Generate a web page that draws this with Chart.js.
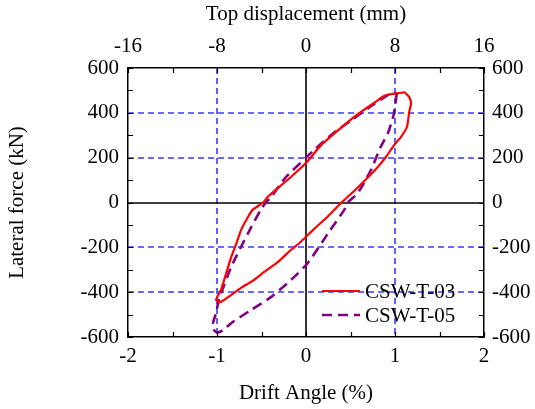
<!DOCTYPE html>
<html><head><meta charset="utf-8">
<script src="https://cdn.jsdelivr.net/npm/chart.js@4/dist/chart.umd.min.js"></script>
<style>html,body{margin:0;padding:0;background:#fff}</style>
</head><body>
<canvas id="c" width="535" height="409"></canvas>
<script>
// ---- data (drift angle %, lateral force kN) ----
const seriesNames = ['CSW-T-03', 'CSW-T-05'];
const t03X = [1.11, 1.16, 1.18, 1.16, 1.135, 1.07, 0.99, 0.90, 0.80, 0.70, 0.55, 0.40, 0.25, 0.10, 0.02, -0.06, -0.17, -0.30, -0.47, -0.60, -0.73, -0.85, -0.92, -0.97, -1.01, -0.99, -0.955, -0.90, -0.84, -0.78, -0.73, -0.66, -0.60, -0.48, -0.43, -0.30, -0.17, 0.01, 0.17, 0.39, 0.52, 0.65, 0.76, 0.88, 0.96, 1.03, 1.11];
const t03Y = [492, 470, 442, 405, 338, 294, 256, 204, 155, 114, 55, 0, -60, -115, -145, -176, -212, -260, -310, -350, -381, -415, -435, -444, -435, -415, -390, -320, -243, -180, -123, -70, -33, 0, 25, 70, 114, 181, 256, 332, 375, 413, 443, 476, 484, 487, 492];
const t05X = [1.02, 1.00, 0.98, 0.92, 0.84, 0.73, 0.58, 0.47, 0.43, 0.25, 0.02, -0.17, -0.39, -0.62, -0.84, -0.93, -1.00, -1.05, -1.04, -1.01, -0.98, -0.84, -0.65, -0.51, -0.45, -0.39, -0.24, 0.09, 0.30, 0.52, 0.75, 0.96, 1.02];
const t05Y = [487, 427, 383, 309, 249, 145, 41, 0, -33, -136, -270, -346, -421, -480, -538, -569, -580, -560, -530, -493, -435, -287, -136, -33, 0, 25, 107, 234, 307, 370, 435, 488, 487];
const driftRange = [-2, 2];
const dispRange = [-16, 16];
const forceRange = [-600, 600];

const FONT = "'Liberation Serif', 'Times New Roman', serif";
Chart.defaults.font.family = FONT;
Chart.defaults.font.size = 21;
Chart.defaults.color = '#000';

// grid lines drawn from the library's own scale ticks
const gridLines = {
  id: 'gridLines',
  beforeDatasetsDraw(chart) {
    const {ctx, chartArea: a, scales} = chart;
    ctx.save();
    const line = (x1, y1, x2, y2, zero) => {
      ctx.beginPath();
      ctx.strokeStyle = zero ? '#000000' : '#3a3aff';
      ctx.lineWidth = zero ? 1.6 : 1.6;
      ctx.setLineDash(zero ? [] : [6, 4]);
      ctx.moveTo(x1, y1); ctx.lineTo(x2, y2); ctx.stroke();
    };
    scales.x.ticks.forEach(t => {
      if (t.value === scales.x.min || t.value === scales.x.max) return;
      const px = Math.round(scales.x.getPixelForValue(t.value));
      line(px, a.top, px, a.bottom, t.value === 0);
    });
    scales.y.ticks.forEach(t => {
      if (t.value === scales.y.min || t.value === scales.y.max) return;
      const py = Math.round(scales.y.getPixelForValue(t.value));
      line(a.left, py, a.right, py, t.value === 0);
    });
    ctx.restore();
  }
};

const tickMarks = {
  id: 'tickMarks',
  afterDatasetsDraw(chart) {
    const {ctx, chartArea: a, scales} = chart;
    ctx.save();
    ctx.strokeStyle = '#000';
    ctx.lineWidth = 1.2;
    ctx.setLineDash([]);
    ctx.beginPath();
    for (let v = driftRange[0]; v <= driftRange[1] + 1e-9; v += 0.5) {
      const px = Math.round(scales.x.getPixelForValue(v)) + 0.5;
      ctx.moveTo(px, a.bottom); ctx.lineTo(px, a.bottom - 5);
      ctx.moveTo(px, a.top); ctx.lineTo(px, a.top + 5);
    }
    for (let v = forceRange[0]; v <= forceRange[1] + 1e-9; v += 100) {
      const py = Math.round(scales.y.getPixelForValue(v)) + 0.5;
      ctx.moveTo(a.left, py); ctx.lineTo(a.left + 5, py);
      ctx.moveTo(a.right, py); ctx.lineTo(a.right - 5, py);
    }
    ctx.stroke();
    ctx.restore();
  }
};

const insideLegend = {
  id: 'insideLegend',
  afterDraw(chart) {
    const {ctx} = chart;
    ctx.save();
    chart.data.datasets.forEach((ds, i) => {
      const y = 291 + i * 24;
      ctx.strokeStyle = ds.borderColor;
      ctx.lineWidth = ds.borderWidth;
      ctx.setLineDash(ds.borderDash || []);
      ctx.beginPath(); ctx.moveTo(322, y); ctx.lineTo(360, y); ctx.stroke();
      ctx.setLineDash([]);
      ctx.fillStyle = '#000';
      ctx.font = '21px ' + FONT;
      ctx.textBaseline = 'middle';
      ctx.textAlign = 'left';
      ctx.fillText(ds.label, 365, y + 1);
    });
    ctx.restore();
  }
};

const toPts = (xs, ys) => xs.map((x, i) => ({x, y: ys[i]}));

new Chart(document.getElementById('c'), {
  type: 'scatter',
  data: {
    datasets: [
      {label: seriesNames[0], data: toPts(t03X, t03Y), showLine: true, borderColor: '#ff0000', backgroundColor: '#ff0000', borderWidth: 2.2, pointRadius: 0, tension: 0.2, fill: false},
      {label: seriesNames[1], data: toPts(t05X, t05Y), showLine: true, borderColor: '#800080', backgroundColor: '#800080', borderWidth: 2.6, borderDash: [10, 6], pointRadius: 0, tension: 0.2, fill: false}
    ]
  },
  options: {
    responsive: false,
    animation: false,
    layout: {padding: 0, autoPadding: false},
    plugins: {legend: {display: false}, tooltip: {enabled: false}},
    scales: {
      x: {
        type: 'linear', position: 'bottom', min: driftRange[0], max: driftRange[1],
        ticks: {stepSize: 1, padding: 7, maxRotation: 0},
        grid: {drawTicks: false, drawOnChartArea: false},
        border: {display: true, color: '#000', width: 1.5},
        title: {display: true, text: 'Drift Angle (%)', padding: {top: 0, bottom: 3}},
        afterFit: (s) => { s.height = 72; }
      },
      x2: {
        type: 'linear', position: 'top', min: dispRange[0], max: dispRange[1],
        ticks: {stepSize: 8, padding: 9, maxRotation: 0},
        grid: {drawTicks: false, drawOnChartArea: false},
        border: {display: true, color: '#000', width: 1.5},
        title: {display: true, text: 'Top displacement (mm)', padding: {top: 1.5, bottom: 0}},
        afterFit: (s) => { s.height = 68; }
      },
      y: {
        type: 'linear', position: 'left', min: forceRange[0], max: forceRange[1],
        ticks: {stepSize: 200, padding: 9},
        grid: {drawTicks: false, drawOnChartArea: false},
        border: {display: true, color: '#000', width: 1.5},
        title: {display: true, text: 'Lateral force (kN)', padding: {top: 5, bottom: 0}},
        afterFit: (s) => { s.width = 128; }
      },
      y2: {
        type: 'linear', position: 'right', min: forceRange[0], max: forceRange[1],
        ticks: {stepSize: 200, padding: 8},
        grid: {drawTicks: false, drawOnChartArea: false},
        border: {display: true, color: '#000', width: 1.5},
        afterFit: (s) => { s.width = 51; }
      }
    }
  },
  plugins: [gridLines, tickMarks, insideLegend]
});
</script>
</body></html>
